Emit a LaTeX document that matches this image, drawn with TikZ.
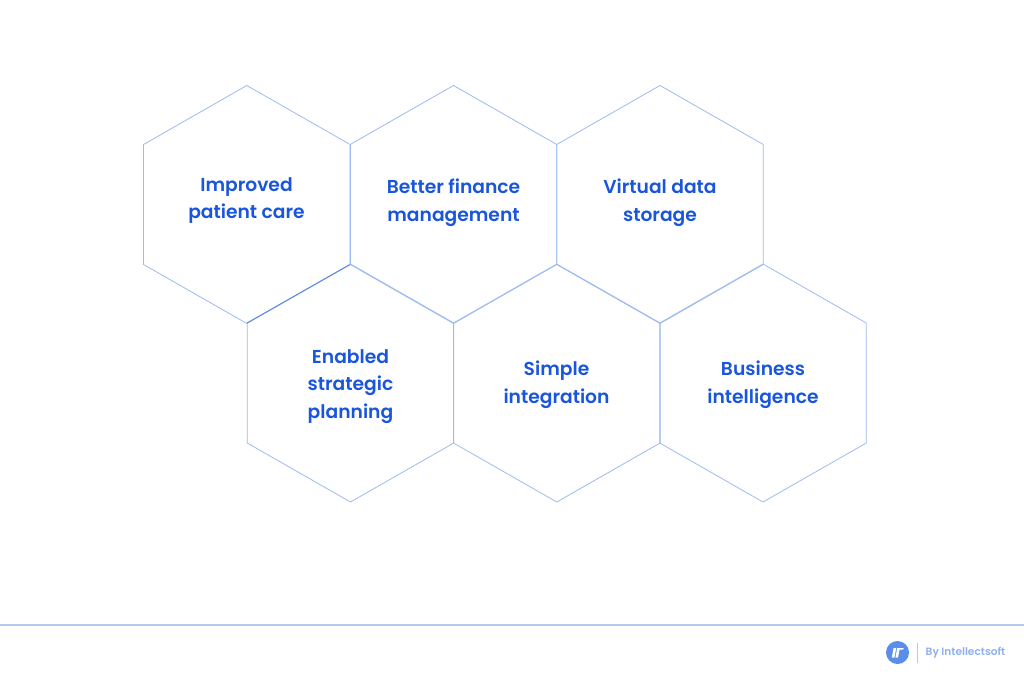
\documentclass[tikz,border=0pt]{standalone}
\usepackage{fontspec}
\setmainfont{Poppins}[BoldFont={* SemiBold}]
\definecolor{hexline}{HTML}{9DBBF1}
\definecolor{hexdark}{HTML}{5584E4}
\definecolor{rulecol}{HTML}{B4CAF3}
\definecolor{txtblue}{HTML}{1A56DB}
\definecolor{logoblue}{HTML}{5B8DEB}
\definecolor{logotxt}{HTML}{8FB0EE}
\tikzset{
  x=1pt,y=-1pt,
  hexa/.style={draw=hexline,line width=0.8pt,line join=round},
  lbl/.style={font=\fontsize{18.7}{27.4}\selectfont\bfseries,text=txtblue,align=center,inner sep=0pt},
}
\newcommand{\hexat}[3]{%
 \draw[hexa] (#2,#3-119) -- (#2+103.3,#3-60) -- (#2+103.3,#3+60) -- (#2,#3+119) -- (#2-103.3,#3+60) -- (#2-103.3,#3-60) -- cycle;
 \coordinate (#1) at (#2,#3);}
\begin{document}
\begin{tikzpicture}
\useasboundingbox (0,0) rectangle (1024,685);
\fill[white] (0,0) rectangle (1024,685);
\hexat{h1}{246.8}{204.5}
\hexat{h2}{453.5}{204.5}
\hexat{h3}{660}{204.5}
\hexat{h4}{350.5}{383}
\hexat{h5}{556.8}{383}
\hexat{h6}{763}{383}
\coordinate (d1) at (350.1,264.5); \coordinate (d2) at (247,323);
\draw[hexdark,line width=0.8pt] (d1) -- (d2);
\coordinate (v1) at (350.1,144.5); \coordinate (v2) at (350.1,264.5);
\draw[hexline,line width=1.2pt] (v1) -- (v2);
\node[lbl] (t1) at (246.5,200.8) {Improved\\patient care};
\node[lbl] (t2) at (453.5,202.8) {Better finance\\management};
\node[lbl] (t3) at (660,202.8) {Virtual data\\storage};
\node[lbl] (t4) at (350.5,386.3) {Enabled\\strategic\\planning};
\node[lbl] (t5) at (556.5,384.8) {Simple\\integration};
\node[lbl] (t6) at (763,384.8) {Business\\intelligence};
\coordinate (a) at (0,625); \coordinate (b) at (1024,625);
\draw[rulecol,line width=1.4pt] (a) -- (b);
\node[circle,fill=logoblue,minimum size=23pt,inner sep=0pt] (logo) at (897.5,652.5) {};
\fill[white] (893.6,648) -- (896.2,648) -- (894.4,657.5) -- (891.8,657.5) -- cycle;
\fill[white] (897.2,648) -- (903.6,648) -- (903.2,649.6) -- (899.6,649.6) -- (898.0,657.5) -- (895.4,657.5) -- cycle;
\coordinate (s1) at (917,643); \coordinate (s2) at (917,663);
\draw[rulecol,line width=1pt] (s1) -- (s2);
\node[font=\fontsize{10.6}{12}\selectfont\bfseries,text=logotxt,anchor=west,inner sep=0pt] (by) at (925.5,652.5) {By Intellectsoft};
\end{tikzpicture}
\end{document}
